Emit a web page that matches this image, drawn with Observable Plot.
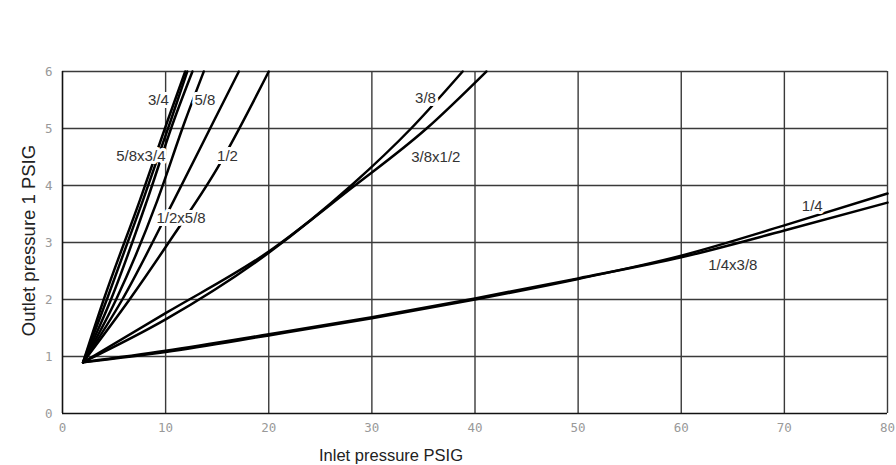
<!DOCTYPE html>
<html><head><meta charset="utf-8">
<script src="https://cdn.jsdelivr.net/npm/d3@7"></script>
<script src="https://cdn.jsdelivr.net/npm/@observablehq/plot@0.6"></script>
<style>body{margin:0;background:#fff}#chart svg{display:block}</style>
</head><body><div id="chart"></div>
<script>
// Inlet (x) / outlet (y) pressure points per curve
const inlet_14 = [2, 10, 20, 30, 40, 50, 60, 70, 80];
const outlet_14 = [0.9, 1.08, 1.37, 1.67, 2.0, 2.36, 2.77, 3.30, 3.86];
const inlet_14x38 = [2, 10, 20, 30, 40, 50, 60, 70, 80];
const outlet_14x38 = [0.9, 1.10, 1.39, 1.69, 2.02, 2.37, 2.74, 3.21, 3.70];
const inlet_38 = [2, 10, 20, 28, 33.8, 38.8];
const outlet_38 = [0.9, 1.65, 2.82, 4.0, 5.0, 6.0];
const inlet_38x12 = [2, 10, 20, 28, 35.3, 41.1];
const outlet_38x12 = [0.9, 1.76, 2.84, 3.95, 5.0, 6.0];
const outlet_steep = [0.9, 2.0, 3.74, 5.14, 6.0];
const inlet_34 = [2, 4.0, 7.5, 10.2, 11.9];
const inlet_58x34 = [2, 4.3, 7.8, 10.5, 12.1];
const inlet_58x34b = [2, 4.7, 8.2, 10.8, 12.6];
const inlet_58 = [2, 5.2, 9.2, 11.9, 13.7];
const inlet_12x58 = [2, 5.8, 10.8, 14.7, 17.1];
const inlet_12 = [2, 6.5, 10.3, 15.0, 20.0];
const outlet_12 = [0.9, 2.0, 3.0, 4.3, 6.0];

const seriesNames = ["1/4", "1/4x3/8", "3/8", "3/8x1/2", "3/4", "5/8x3/4", "5/8x3/4 b", "5/8", "1/2x5/8", "1/2"];
const seriesInlet = [inlet_14, inlet_14x38, inlet_38, inlet_38x12, inlet_34, inlet_58x34, inlet_58x34b, inlet_58, inlet_12x58, inlet_12];
const seriesOutlet = [outlet_14, outlet_14x38, outlet_38, outlet_38x12, outlet_steep, outlet_steep, outlet_steep, outlet_steep, outlet_steep, outlet_12];

// Curve labels
const labelText = ["3/4", "5/8", "5/8x3/4", "1/2", "1/2x5/8", "3/8", "3/8x1/2", "1/4", "1/4x3/8"];
const labelX = [9.3, 13.8, 7.6, 16.0, 11.5, 35.2, 36.2, 72.7, 65.0];
const labelY = [5.49, 5.49, 4.51, 4.51, 3.42, 5.54, 4.49, 3.63, 2.60];

// Ticks
const xTicks = [0, 10, 20, 30, 40, 50, 60, 70, 80];
const yTicks = [0, 1, 2, 3, 4, 5, 6];

const rows = seriesNames.flatMap((name, i) =>
  seriesInlet[i].map((x, j) => ({series: name, x, y: seriesOutlet[i][j]})));
const labels = labelText.map((t, i) => ({t, x: labelX[i], y: labelY[i]}));

const chart = Plot.plot({
  width: 896,
  height: 465,
  marginLeft: 62,
  marginRight: 9,
  marginTop: 71,
  marginBottom: 52,
  style: {background: "#fff", overflow: "visible"},
  x: {domain: [0, 80]},
  y: {domain: [0, 6]},
  marks: [
    Plot.ruleX(xTicks.slice(1), {stroke: "#3a3a3a", strokeWidth: 1.4}),
    Plot.ruleY(yTicks.slice(1), {stroke: "#3a3a3a", strokeWidth: 1.4}),
    Plot.ruleX([0], {stroke: "#111", strokeWidth: 1.6}),
    Plot.ruleY([0], {stroke: "#111", strokeWidth: 1.6}),
    Plot.axisX(xTicks, {tickSize: 0, tickPadding: 10, tickFormat: d => String(d), fontFamily: "DejaVu Sans Mono", fontSize: 12.5, fill: "#999", label: null}),
    Plot.axisY(yTicks, {tickSize: 0, tickPadding: 10, tickFormat: d => String(d), fontFamily: "DejaVu Sans Mono", fontSize: 12.5, fill: "#999", label: null}),
    Plot.line(rows, {x: "x", y: "y", z: "series", stroke: "#000", strokeWidth: 2.5, curve: "monotone-x"}),
    Plot.text(labels, {x: "x", y: "y", text: "t", fontFamily: "Liberation Sans", fontSize: 15, fill: "#333", stroke: "#fff", strokeWidth: 6, paintOrder: "stroke"}),
    Plot.text(["Inlet pressure PSIG"], {frameAnchor: "bottom", textAnchor: "middle", lineAnchor: "middle", dx: -84, dy: 42, fontFamily: "Liberation Sans", fontSize: 16.5, fill: "#222"}),
    Plot.text(["Outlet pressure 1 PSIG"], {frameAnchor: "left", textAnchor: "middle", lineAnchor: "middle", rotate: -90, dx: -33, dy: -2, fontFamily: "Liberation Sans", fontSize: 18.5, fill: "#222"})
  ]
});
document.getElementById("chart").appendChild(chart);
</script>
</body></html>
